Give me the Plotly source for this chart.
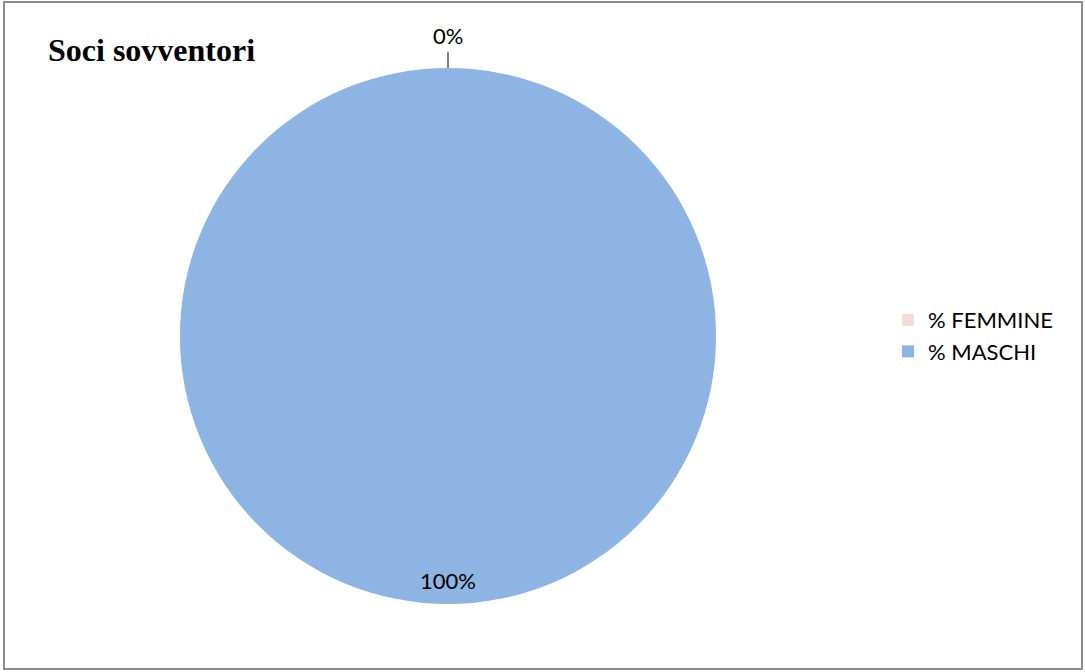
import math
import plotly.graph_objects as go

categories = ["% FEMMINE", "% MASCHI"]
values = [0, 100]
colors = ["#F2DCDB", "#8EB4E3"]
title_text = "Soci sovventori"

W, H = 1085, 672
cx, cy, R = 448, 336, 268  # pie center / radius in px

fig = go.Figure(go.Pie(
    labels=categories, values=values, sort=False, direction="clockwise",
    rotation=0, marker=dict(colors=colors), textinfo="none",
    hoverinfo="label+percent", showlegend=True,
    domain=dict(x=[(cx - R) / W, (cx + R) / W], y=[1 - (cy + R) / H, 1 - (cy - R) / H]),
))

# data labels computed from slice mid-angles
total = sum(values)
cum = 0
annotations = []
shapes = []
for v in values:
    frac = v / total
    mid = (cum + frac / 2) * 2 * math.pi
    cum += frac
    pct = f"{round(frac * 100)}%"
    sx, sy = math.sin(mid), math.cos(mid)
    if frac < 0.05:
        x0, y0 = cx + sx * R, cy - sy * R
        x1, y1 = cx + sx * (R + 16), cy - sy * (R + 16)
        lx, ly = cx + sx * (R + 33), cy - sy * (R + 33)
        shapes.append(dict(type="line", xref="paper", yref="paper",
                           x0=x0 / W, y0=1 - y0 / H, x1=x1 / W, y1=1 - y1 / H,
                           line=dict(color="black", width=1)))
    else:
        lx, ly = cx + sx * (R - 24), cy - sy * (R - 24)
    annotations.append(dict(text=pct, x=lx / W, y=1 - ly / H, xref="paper", yref="paper",
                            showarrow=False, xanchor="center", yanchor="middle",
                            font=dict(family="Lato, Liberation Sans, sans-serif", size=22, color="black")))

annotations.append(dict(text=f"<b>{title_text}</b>", x=46 / W, y=1 - 50 / H, xref="paper", yref="paper",
                        showarrow=False, xanchor="left", yanchor="middle",
                        font=dict(family="Liberation Serif, Times New Roman, serif", size=32, color="black")))

shapes.append(dict(type="rect", xref="paper", yref="paper", x0=4 / W, y0=1 - 669 / H, x1=1082 / W, y1=1 - 2 / H,
                   line=dict(color="#8c8c8c", width=2), fillcolor="rgba(0,0,0,0)", layer="below"))

fig.update_layout(
    width=W, height=H, margin=dict(l=0, r=0, t=0, b=0),
    paper_bgcolor="white", plot_bgcolor="white",
    annotations=annotations, shapes=shapes,
    legend=dict(x=888 / W, y=1 - 336 / H, xanchor="left", yanchor="middle",
                font=dict(family="Lato, Liberation Sans, sans-serif", size=22, color="black"),
                itemwidth=30, tracegroupgap=0),
)

fig.write_html("out.html", config={"displayModeBar": False},
               post_script="document.body.style.margin='0';document.body.style.overflow='hidden';")
